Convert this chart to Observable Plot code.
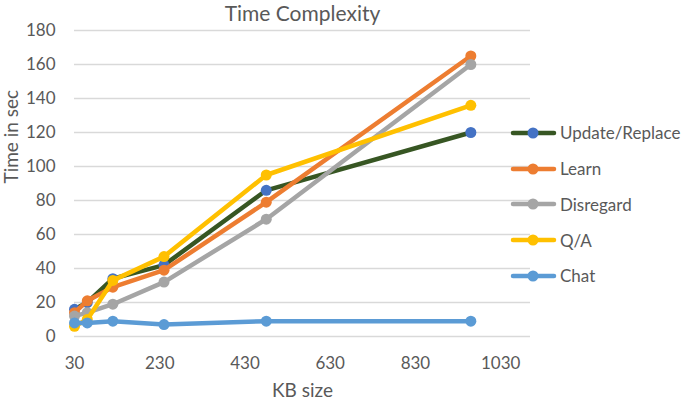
<!DOCTYPE html>
<html><head><meta charset="utf-8">
<script src="https://cdn.jsdelivr.net/npm/d3@7"></script>
<script src="https://cdn.jsdelivr.net/npm/@observablehq/plot@0.6"></script>
<style>
body{margin:0;background:#fff;}
#wrap{position:relative;width:685px;height:400px;font-family:Lato, sans-serif;}
#wrap svg{overflow:visible;}
#legend{position:absolute;left:511px;top:115px;}
.row{display:flex;align-items:center;height:35.75px;font-size:17px;color:#595959;white-space:nowrap;}
.row svg{margin-right:4px;}
</style></head>
<body><div id="wrap"><div id="legend"></div></div>
<script>
const kbSizes = [30, 60, 120, 240, 480, 960];
const seriesNames = ["Update/Replace", "Learn", "Disregard", "Q/A", "Chat"];
const updateReplace = [16, 20, 34, 42, 86, 120];
const learn = [14, 21, 29, 39, 79, 165];
const disregard = [12, 14, 19, 32, 69, 160];
const qa = [6, 10, 33, 47, 95, 136];
const chat = [8, 8, 9, 7, 9, 9];
const seriesValues = [updateReplace, learn, disregard, qa, chat];
const lineColors = ["#375623", "#ED7D31", "#A5A5A5", "#FFC000", "#5B9BD5"];
const markerColors = ["#4472C4", "#ED7D31", "#A5A5A5", "#FFC000", "#5B9BD5"];
const xTicks = [30, 230, 430, 630, 830, 1030];
const yTicks = [0, 20, 40, 60, 80, 100, 120, 140, 160, 180];
const titleText = "Time Complexity";
const xTitle = "KB size";
const yTitle = "Time in sec";

const seriesMarks = [];
seriesNames.forEach((name, i) => {
  const rows = kbSizes.map((kb, j) => ({kb, t: seriesValues[i][j], name}));
  seriesMarks.push(Plot.line(rows, {x: "kb", y: "t", stroke: lineColors[i], strokeWidth: 4.5, strokeLinejoin: "round", strokeLinecap: "round"}));
  seriesMarks.push(Plot.dot(rows, {x: "kb", y: "t", r: 5.5, fill: markerColors[i], stroke: "none"}));
});

const chart = Plot.plot({
  width: 685, height: 400,
  marginLeft: 74, marginRight: 155, marginTop: 30, marginBottom: 64,
  style: {fontFamily: "Lato, sans-serif", fontSize: "17px", color: "#595959", background: "white", overflow: "visible"},
  x: {domain: [30, 1100], ticks: xTicks, label: null},
  y: {domain: [0, 180], ticks: yTicks, label: null},
  marks: [
    Plot.gridY(yTicks, {stroke: "#D9D9D9", strokeOpacity: 1, strokeWidth: 1.3}),
    Plot.axisY(yTicks, {tickSize: 0, tickPadding: 19, fontSize: 17, fill: "#595959", label: null, tickFormat: d => String(d)}),
    Plot.axisX(xTicks, {tickSize: 0, tickPadding: 20, fontSize: 17, fill: "#595959", label: null, tickFormat: d => String(d)}),
    ...seriesMarks,
    Plot.text([titleText], {frameAnchor: "top", dy: -16, fontSize: 21, fill: "#595959", lineAnchor: "middle"}),
    Plot.text([xTitle], {frameAnchor: "bottom", dy: 54, fontSize: 19, fill: "#595959", lineAnchor: "middle"}),
    Plot.text([yTitle], {frameAnchor: "left", dx: -63, rotate: -90, fontSize: 19, fill: "#595959", lineAnchor: "middle"})
  ]
});
document.getElementById("wrap").prepend(chart);

const legend = document.getElementById("legend");
seriesNames.forEach((name, i) => {
  const row = document.createElement("div");
  row.className = "row";
  row.innerHTML = `<svg width="45" height="12"><line x1="2" y1="6" x2="43" y2="6" stroke="${lineColors[i]}" stroke-width="4.5" stroke-linecap="round"/><circle cx="22" cy="6" r="5.5" fill="${markerColors[i]}"/></svg><span>${name}</span>`;
  legend.appendChild(row);
});
</script>
</body></html>
